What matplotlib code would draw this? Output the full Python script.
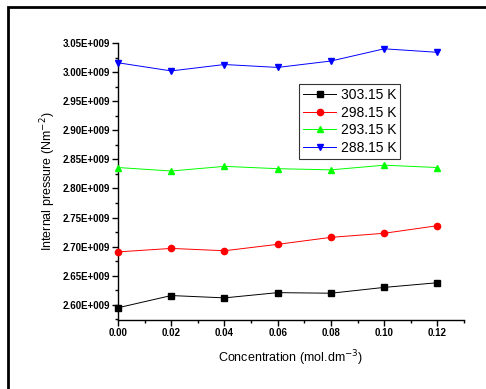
import numpy as np
import matplotlib
matplotlib.use("Agg")
import matplotlib.pyplot as plt
from matplotlib.ticker import FuncFormatter, MultipleLocator
from matplotlib.patches import Rectangle

plt.rcParams['font.family'] = ['Liberation Sans', 'DejaVu Sans']

# data
conc = [0.00, 0.02, 0.04, 0.06, 0.08, 0.10, 0.12]
p_303 = [2.595e9, 2.616e9, 2.612e9, 2.621e9, 2.620e9, 2.630e9, 2.638e9]
p_298 = [2.691e9, 2.697e9, 2.693e9, 2.704e9, 2.716e9, 2.723e9, 2.736e9]
p_293 = [2.836e9, 2.830e9, 2.838e9, 2.834e9, 2.832e9, 2.840e9, 2.836e9]
p_288 = [3.016e9, 3.002e9, 3.013e9, 3.008e9, 3.019e9, 3.040e9, 3.034e9]
labels = ["303.15 K", "298.15 K", "293.15 K", "288.15 K"]

fig = plt.figure(figsize=(4.86, 3.89), dpi=100)
ax = fig.add_axes([0.2428, 0.1774, 0.7119, 0.7121])

styles = [("black", "s"), ("red", "o"), ("#00ff00", "^"), ("blue", "v")]
for y, lab, (c, m) in zip([p_303, p_298, p_293, p_288], labels, styles):
    ax.plot(conc, y, color=c, marker=m, markersize=4.5, linewidth=0.7,
            label=lab, clip_on=False, zorder=3)

ax.set_xlim(0, 0.13)
ax.set_ylim(2.574e9, 3.05e9)
ax.xaxis.set_major_locator(MultipleLocator(0.02))
ax.xaxis.set_minor_locator(MultipleLocator(0.01))
ax.yaxis.set_minor_locator(MultipleLocator(0.025e9))
ax.set_yticks(np.arange(2.60e9, 3.051e9, 0.05e9))
ax.yaxis.set_major_formatter(FuncFormatter(lambda v, p: f"{v/1e9:.2f}E+009"))
ax.xaxis.set_major_formatter(FuncFormatter(lambda v, p: f"{v:.2f}"))

for s in ["top", "right"]:
    ax.spines[s].set_visible(False)
for s in ["left", "bottom"]:
    ax.spines[s].set_linewidth(1.0)
ax.tick_params(which="major", direction="out", length=4, width=1,
               labelsize=7, pad=2)
ax.tick_params(which="minor", direction="out", length=2.5, width=1)
for t in ax.get_xticklabels() + ax.get_yticklabels():
    t.set_fontweight("bold")

ax.set_xlabel("Concentration (mol.dm$^{-3}$)", fontsize=9, labelpad=7)
ax.set_ylabel("Internal pressure (Nm$^{-2}$)", fontsize=9, labelpad=3)

leg = ax.legend(loc="upper left", bbox_to_anchor=(0.523, 0.852), fontsize=10,
                frameon=True, fancybox=False, edgecolor="black",
                handlelength=2.4, handletextpad=0.3, borderpad=0.3,
                labelspacing=0.25, borderaxespad=0)
leg.get_frame().set_linewidth(0.8)

# outer frame of the picture
fig.patches.append(Rectangle((8/486, -0.1), 1.2, 1.1 - 7/389,
                             transform=fig.transFigure, fill=False,
                             edgecolor="black", linewidth=2))

fig.savefig("out.png", dpi=100)
